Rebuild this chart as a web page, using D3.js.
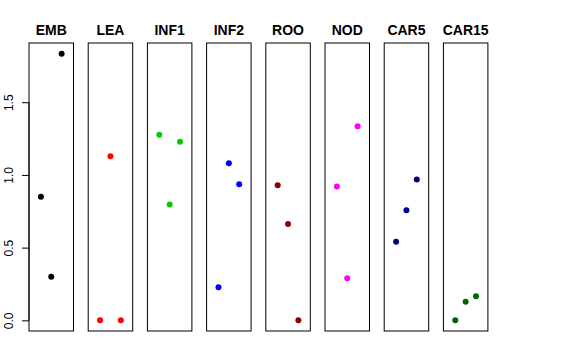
<!DOCTYPE html>
<html><head><meta charset="utf-8">
<script src="https://cdn.jsdelivr.net/npm/d3@7"></script>
<style>body{margin:0;background:#fff}svg{display:block}</style>
</head><body>
<script>
const panels = ["EMB","LEA","INF1","INF2","ROO","NOD","CAR5","CAR15"];
const colors = ["#000000","#FF0000","#00CD00","#0000FF","#8B0000","#FF00FF","#000080","#006400"];
const values = [
  [0.85, 0.30, 1.834],
  [0.00, 1.128, 0.00],
  [1.277, 0.796, 1.229],
  [0.228, 1.080, 0.936],
  [0.929, 0.663, 0.00],
  [0.920, 0.290, 1.335],
  [0.540, 0.757, 0.968],
  [0.00, 0.127, 0.166]
];
const yTicks = [0, 0.5, 1.0, 1.5];

(function () {
const W = 576, H = 360;
const svg = d3.select("body").append("svg").attr("width", W).attr("height", H);

const plotTop = 43, plotBottom = 331;
const yMax = d3.max(values.flat());
const ext = yMax * 0.04;
const y = d3.scaleLinear().domain([-ext, yMax + ext]).range([plotBottom, plotTop]);

const x0 = 29, pw = 44.5, step = 59.2;

panels.forEach((name, i) => {
  const left = x0 + i * step;
  const x = d3.scaleLinear().domain([-0.15, 4.15]).range([left, left + pw]);
  const g = svg.append("g");
  g.append("rect").attr("x", left).attr("y", plotTop).attr("width", pw).attr("height", plotBottom - plotTop)
    .attr("fill", "none").attr("stroke", "#000").attr("stroke-width", 1);
  g.append("text").attr("x", left + pw / 2).attr("y", 34.5)
    .attr("text-anchor", "middle").attr("font-family", "Liberation Sans, Arial, sans-serif")
    .attr("font-weight", "bold").attr("font-size", 14).text(name);
  g.selectAll("circle").data(values[i]).join("circle")
    .attr("cx", (d, j) => x(j + 1)).attr("cy", d => y(d)).attr("r", 3)
    .attr("fill", colors[i]);
  if (i === 0) {
    const axis = d3.axisLeft(y).tickValues(yTicks).tickFormat(d3.format(".1f")).tickSize(7).tickPadding(0);
    const ag = svg.append("g").attr("transform", `translate(${left},0)`).call(axis);
    ag.select(".domain").attr("d", `M0,${y(0)}V${y(1.5)}`).attr("stroke", "#000");
    ag.selectAll(".tick line").attr("stroke", "#000");
    ag.selectAll(".tick text")
      .attr("font-family", "Liberation Sans, Arial, sans-serif").attr("font-size", 12)
      .attr("fill", "#000")
      .attr("x", null).attr("dy", null)
      .attr("text-anchor", "middle")
      .attr("transform", "translate(-16.3,0) rotate(-90)");
  }
});
})();
</script>
</body></html>
